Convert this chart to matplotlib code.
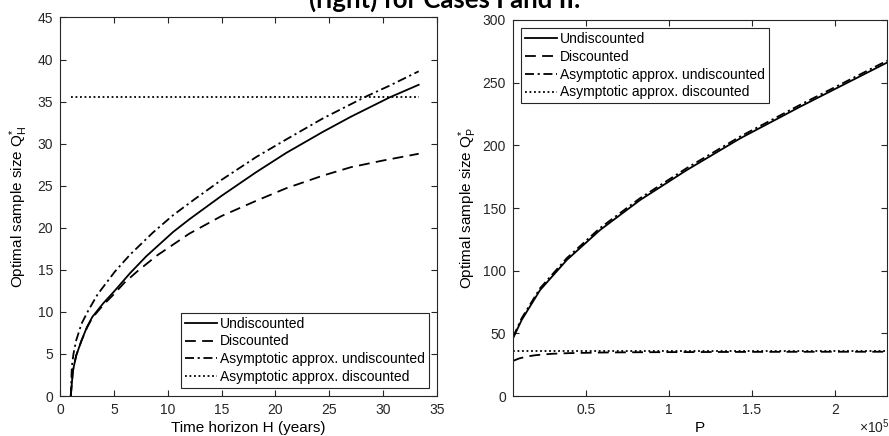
import numpy as np
import matplotlib
matplotlib.use("Agg")
import matplotlib.pyplot as plt

plt.rcParams['font.family'] = ['Liberation Sans', 'DejaVu Sans']
plt.rcParams['mathtext.fontset'] = 'custom'
plt.rcParams['mathtext.rm'] = 'Liberation Sans'
plt.rcParams['mathtext.it'] = 'Liberation Sans'

# Left panel: optimal sample size vs time horizon H
H_undisc = [1, 1.2, 1.5, 2, 2.5, 3, 4, 5, 6.5, 8, 10.5, 12, 15, 18.2, 21, 24.4, 27, 30.6, 33.3]
Q_undisc = [0, 3.0, 4.8, 6.6, 8.2, 9.4, 11.0, 12.4, 14.6, 16.6, 19.5, 21.0, 23.8, 26.6, 28.9, 31.4, 33.2, 35.5, 37.0]

H_disc = [1, 1.2, 1.5, 2, 2.5, 3, 4, 5, 6, 7.25, 9, 12, 15, 18.2, 21, 24.4, 27, 30, 33.3]
Q_disc = [0, 3.0, 4.8, 6.6, 8.1, 9.3, 10.8, 12.1, 13.5, 14.9, 16.7, 19.3, 21.4, 23.2, 24.7, 26.2, 27.2, 28.0, 28.8]

H_asym = [1, 1.1, 1.25, 1.5, 2, 2.6, 3.5, 5.1, 6.5, 8.6, 10.5, 12.5, 15, 18.2, 21, 24.4, 28.4, 30.6, 33.3]
Q_asym_undisc = [0, 3.5, 5.0, 6.6, 8.6, 10.1, 12.1, 14.8, 16.8, 19.4, 21.5, 23.4, 25.7, 28.4, 30.5, 33.0, 35.6, 36.9, 38.6]

H_limits = [1, 33.3]
Q_asym_disc = [35.6, 35.6]

# Right panel: optimal sample size vs population P
P_undisc = [6200, 11400, 22500, 38600, 58600, 82700, 110800, 143000, 179000, 231500]
QP_undisc = [46, 60.6, 84.5, 108.5, 132.4, 156.3, 180.2, 205.5, 230.7, 266]
QP_asym_undisc = [47, 62, 86, 110, 134, 157.8, 181.8, 207, 232.2, 267.5]

P_disc = [6200, 10000, 15000, 20000, 30000, 40000, 60000, 80000, 100000, 150000, 200000, 231500]
QP_disc = [28.0, 30.0, 31.6, 32.6, 33.7, 34.2, 34.7, 34.9, 35.0, 35.2, 35.3, 35.3]

P_limits = [6200, 231500]
QP_asym_disc = [35.6, 35.6]

labels = ['Undiscounted', 'Discounted',
          'Asymptotic approx. undiscounted', 'Asymptotic approx. discounted']

fig = plt.figure(figsize=(8.89, 4.36), dpi=100)
W, Hpx = 889, 436
ax1 = fig.add_axes([60 / W, (Hpx - 396) / Hpx, 377 / W, (396 - 17.5) / Hpx])
ax2 = fig.add_axes([513 / W, (Hpx - 396) / Hpx, 374 / W, (396 - 20) / Hpx])

lw = 1.3
dash = (0, (6, 3.5))
dashdot = (0, (5, 2, 1.2, 2))
dot = (0, (1, 1.5))

ax1.plot(H_undisc, Q_undisc, color='k', lw=lw, ls='-', label=labels[0])
ax1.plot(H_disc, Q_disc, color='k', lw=lw, ls=dash, label=labels[1])
ax1.plot(H_asym, Q_asym_undisc, color='k', lw=lw, ls=dashdot, label=labels[2])
ax1.plot(H_limits, Q_asym_disc, color='k', lw=lw, ls=dot, label=labels[3])

ax2.plot(P_undisc, QP_undisc, color='k', lw=lw, ls='-', label=labels[0])
ax2.plot(P_disc, QP_disc, color='k', lw=lw, ls=dash, label=labels[1])
ax2.plot(P_undisc, QP_asym_undisc, color='k', lw=lw, ls=dashdot, label=labels[2])
ax2.plot(P_limits, QP_asym_disc, color='k', lw=lw, ls=dot, label=labels[3])

ax1.set_xlim(0, 35)
ax1.set_ylim(0, 45)
ax1.set_xticks(np.arange(0, 36, 5))
ax1.set_yticks(np.arange(0, 46, 5))
ax1.set_xlabel('Time horizon H (years)', fontsize=11, labelpad=3)
ax1.set_ylabel(r'Optimal sample size Q$_\mathregular{H}^\mathregular{*}$', fontsize=11, labelpad=5)

ax2.set_xlim(6200, 231500)
ax2.set_ylim(0, 300)
ax2.set_xticks([50000, 100000, 150000, 200000])
ax2.set_xticklabels(['0.5', '1', '1.5', '2'])
ax2.set_yticks(np.arange(0, 301, 50))
ax2.set_xlabel('P', fontsize=11, labelpad=3)
ax2.set_ylabel(r'Optimal sample size Q$_\mathregular{P}^\mathregular{*}$', fontsize=11, labelpad=3)
# axis multiplier, drawn by hand so it sits at the lower right corner
fig.text(859 / W, 1 - 433 / Hpx, r'$\times$10$^\mathregular{5}$', fontsize=10,
         va='baseline', ha='left', color='#262626')

for ax in (ax1, ax2):
    ax.tick_params(direction='in', length=4, width=0.8, top=True, right=True,
                   labelsize=10, colors='#262626', pad=5)
    for sp in ax.spines.values():
        sp.set_linewidth(0.8)
        sp.set_color('#262626')

leg_kw = dict(fontsize=10, frameon=True, fancybox=False, framealpha=1,
              edgecolor='#262626', handlelength=2.3, handletextpad=0.25,
              labelspacing=0.28, borderpad=0.25, borderaxespad=0.6)
l1 = ax1.legend(loc='lower right', **leg_kw)
l2 = ax2.legend(loc='upper left', **leg_kw)
for leg in (l1, l2):
    leg.get_frame().set_linewidth(0.8)

fig.text(0.5, 1 - 7.5 / Hpx, '(right) for Cases I and II.', fontsize=18.5,
         fontweight='bold', family=['Lato', 'DejaVu Sans'], ha='center', va='baseline')

fig.savefig('out.png', dpi=100)
